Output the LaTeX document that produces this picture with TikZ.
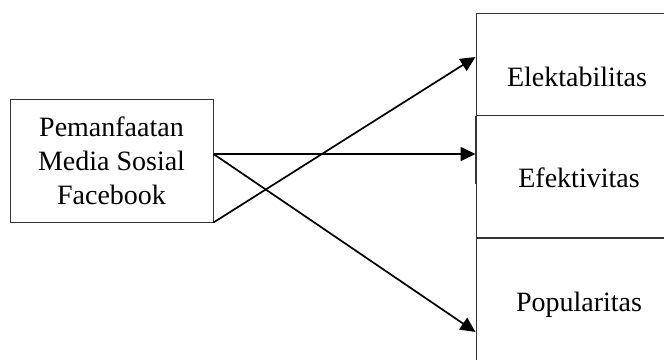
\documentclass[tikz,border=0pt]{standalone}
\usepackage{fontspec}
\setmainfont{Liberation Serif}
\usetikzlibrary{calc,arrows.meta}

\begin{document}
\begin{tikzpicture}[x=1pt, y=-1pt,
		kotak/.style={draw=black!80, line width=1pt, minimum width=204pt, inner sep=0pt},
		panah/.style={line width=1.7pt, -{Triangle[length=15pt,width=14pt]}},
		teks/.style={font=\fontsize{28}{34}\selectfont, anchor=base}]
			%%%%% START %%%%%
			
			\useasboundingbox (0, 0) rectangle (664, 359);
			
			\node[kotak, minimum width=203pt, minimum height=123pt, align=center, font=\fontsize{28}{34}\selectfont] (media) at (111.5, 160.5) {Pemanfaatan\\Media Sosial\\Facebook};
			
			\node[kotak, minimum height=102pt] (elek) at (578, 64) {};
			\node[kotak, minimum height=123pt] (efek) at (578, 176.5) {};
			\node[kotak, minimum height=130pt] (popu) at (578, 302) {};
			
			\draw[line width=1.3pt, color=black!80] (elek.south west) -- ++(0, 68);
			
			\node[teks] (telek) at ($(elek.center)+(-1, 22)$) {Elektabilitas};
			\node[teks] (tefek) at ($(efek.center)+(1, 10.5)$) {Efektivitas};
			\node[teks] (tpopu) at ($(popu.center)+(1, 9)$) {Popularitas};
			
			\draw[panah] (media.south east) -- ($(elek.west)+(0, -7)$);
			\draw[panah] ($(media.east)+(0, -6.5)$) -- ($(efek.west)+(0, -22.5)$);
			\draw[panah] ($(media.east)+(0, -6.5)$) -- ($(popu.west)+(0, 30)$);
			
			%%%%% END %%%%%
		\end{tikzpicture}
\end{document}
